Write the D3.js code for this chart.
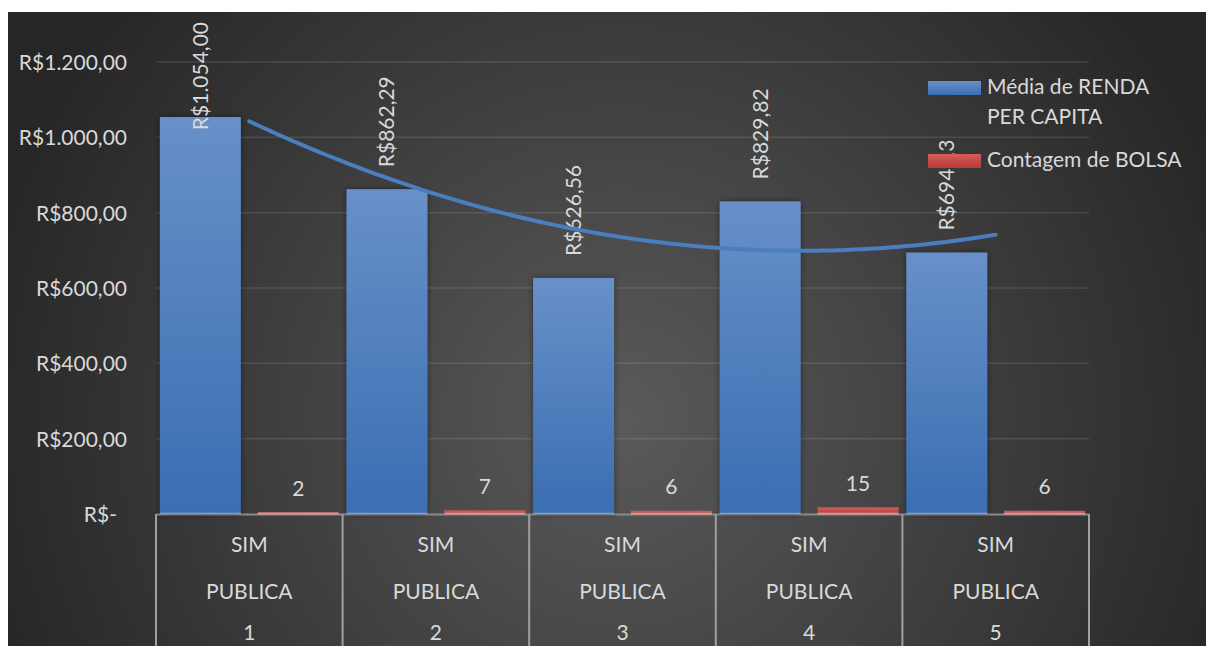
<!DOCTYPE html>
<html>
<head>
<meta charset="utf-8">
<script src="https://cdn.jsdelivr.net/npm/d3@7"></script>
<style>
  html, body { margin: 0; padding: 0; background: #ffffff; }
  svg { display: block; }
  text { font-family: Lato, "Open Sans", sans-serif; fill: #d9d9d9; }
</style>
</head>
<body>
<svg id="chart" width="1206" height="646"></svg>
<script>
// ---- data ----
const categories = ["1", "2", "3", "4", "5"];
const level1 = ["SIM", "SIM", "SIM", "SIM", "SIM"];
const level2 = ["PUBLICA", "PUBLICA", "PUBLICA", "PUBLICA", "PUBLICA"];
const rendaValues = [1054.00, 862.29, 626.56, 829.82, 694.13];
const bolsaValues = [2, 7, 6, 15, 6];
const yTicks = [0, 200, 400, 600, 800, 1000, 1200];
const seriesNames = ["Média de RENDA PER CAPITA", "Contagem de BOLSA"];

// ---- formatting ----
const brl = d3.formatLocale({decimal: ",", thousands: ".", grouping: [3], currency: ["R$", ""]});
const fmtMoney = v => v === 0 ? "R$-" : "R$" + brl.format(",.2f")(v);

const svg = d3.select("#chart");
const W = 1206, H = 646;
const defs = svg.append("defs");

// background gradient
const bg = defs.append("radialGradient").attr("id", "bgGrad")
  .attr("gradientUnits", "userSpaceOnUse").attr("cx", 620).attr("cy", 420).attr("r", 660);
bg.append("stop").attr("offset", "0%").attr("stop-color", "#5a5a5a");
bg.append("stop").attr("offset", "100%").attr("stop-color", "#262626");

const blueGrad = defs.append("linearGradient").attr("id", "blueGrad").attr("x1", 0).attr("y1", 0).attr("x2", 0).attr("y2", 1);
blueGrad.append("stop").attr("offset", "0%").attr("stop-color", "#6890c8");
blueGrad.append("stop").attr("offset", "100%").attr("stop-color", "#3a6eb2");
const redGrad = defs.append("linearGradient").attr("id", "redGrad").attr("x1", 0).attr("y1", 0).attr("x2", 0).attr("y2", 1);
redGrad.append("stop").attr("offset", "0%").attr("stop-color", "#d45f5b");
redGrad.append("stop").attr("offset", "100%").attr("stop-color", "#b93a38");

const shadow = defs.append("filter").attr("id", "shadow").attr("x", "-20%").attr("y", "-20%").attr("width", "140%").attr("height", "140%");
shadow.append("feDropShadow").attr("dx", 0).attr("dy", 0).attr("stdDeviation", 3)
  .attr("flood-color", "#000").attr("flood-opacity", 0.45);

svg.append("rect").attr("x", 8).attr("y", 12).attr("width", W - 8).attr("height", H - 12).attr("fill", "url(#bgGrad)");

// ---- scales ----
const x0 = 156, x1 = 1089;
const x = d3.scaleBand().domain(categories).range([x0, x1]).paddingInner(0).paddingOuter(0);
const xs = d3.scaleBand().domain(["renda", "bolsa"]).range([0, x.bandwidth()]).paddingInner(0.173).paddingOuter(0.04);
const y = d3.scaleLinear().domain([0, 1200]).range([514, 62]);

// gridlines
svg.append("g").selectAll("line").data(yTicks.filter(d => d > 0)).join("line")
  .attr("x1", x0).attr("x2", x1)
  .attr("y1", d => y(d)).attr("y2", d => y(d))
  .attr("stroke", "rgba(255,255,255,0.11)").attr("stroke-width", 1.5);

// y axis labels
const yAxis = d3.axisLeft(y).tickValues(yTicks).tickFormat(fmtMoney).tickSize(0).tickPadding(0);
const gy = svg.append("g").attr("transform", "translate(127,0)").call(yAxis);
gy.select(".domain").remove();
gy.selectAll("text").attr("font-size", 21).attr("font-family", "Lato, sans-serif").attr("fill", "#d9d9d9")
  .attr("dy", "0.35em")
  .attr("dx", d => d === 0 ? -10 : 0);

// category axis frame
svg.append("line").attr("x1", x0).attr("x2", x1).attr("y1", 514.5).attr("y2", 514.5)
  .attr("stroke", "#8c8c8c").attr("stroke-width", 2);
const seps = categories.map(c => x(c)).concat([x1]);
svg.append("g").selectAll("line").data(seps).join("line")
  .attr("x1", d => d).attr("x2", d => d).attr("y1", 514).attr("y2", H)
  .attr("stroke", "#a0a0a0").attr("stroke-width", 2);

// bars
const groups = svg.append("g").selectAll("g").data(categories).join("g")
  .attr("transform", d => `translate(${x(d)},0)`);
groups.append("rect")
  .attr("x", xs("renda")).attr("width", xs.bandwidth())
  .attr("y", (d, i) => y(rendaValues[i])).attr("height", (d, i) => y(0) - y(rendaValues[i]))
  .attr("fill", "url(#blueGrad)").attr("filter", "url(#shadow)");
groups.append("rect")
  .attr("x", xs("bolsa")).attr("width", xs.bandwidth())
  .attr("y", (d, i) => y(bolsaValues[i]) - 1).attr("height", (d, i) => y(0) - y(bolsaValues[i]) + 1)
  .attr("fill", "url(#redGrad)");
// light bottom edges
groups.append("line").attr("x1", xs("renda")).attr("x2", xs("renda") + xs.bandwidth())
  .attr("y1", 513.5).attr("y2", 513.5).attr("stroke", "#7da3d6").attr("stroke-width", 1.5);
groups.append("line").attr("x1", xs("bolsa")).attr("x2", xs("bolsa") + xs.bandwidth())
  .attr("y1", 513.5).attr("y2", 513.5).attr("stroke", "#e59a97").attr("stroke-width", 1.5);

// bolsa labels
groups.append("text")
  .attr("x", xs("bolsa") + xs.bandwidth() / 2)
  .attr("y", (d, i) => y(bolsaValues[i]) - 25)
  .attr("dy", "0.35em").attr("text-anchor", "middle").attr("font-size", 21)
  .text((d, i) => bolsaValues[i]);

// category labels
const catRows = [level1, level2, categories];
const rowY = [545, 592, 633];
catRows.forEach((row, r) => {
  svg.append("g").selectAll("text").data(categories).join("text")
    .attr("x", d => x(d) + x.bandwidth() / 2)
    .attr("y", rowY[r]).attr("dy", "0.35em")
    .attr("text-anchor", "middle").attr("font-size", 21)
    .text((d, i) => row[i]);
});

// polynomial (order 2) trendline of renda series
const idx = categories.map((d, i) => i + 1);
function polyFit2(xsArr, ysArr) {
  const n = xsArr.length;
  let s = [0, 0, 0, 0, 0], t = [0, 0, 0];
  for (let i = 0; i < n; i++) {
    for (let k = 0; k < 5; k++) s[k] += Math.pow(xsArr[i], k);
    for (let k = 0; k < 3; k++) t[k] += ysArr[i] * Math.pow(xsArr[i], k);
  }
  const A = [[s[0], s[1], s[2], t[0]], [s[1], s[2], s[3], t[1]], [s[2], s[3], s[4], t[2]]];
  for (let c = 0; c < 3; c++) {
    for (let r = c + 1; r < 3; r++) {
      const f = A[r][c] / A[c][c];
      for (let k = c; k < 4; k++) A[r][k] -= f * A[c][k];
    }
  }
  const b = [0, 0, 0];
  for (let r = 2; r >= 0; r--) {
    let v = A[r][3];
    for (let k = r + 1; k < 3; k++) v -= A[r][k] * b[k];
    b[r] = v / A[r][r];
  }
  return b;
}
const coef = polyFit2(idx, rendaValues);
const xi = d3.scaleLinear().domain([1, categories.length])
  .range([x(categories[0]) + x.bandwidth() / 2, x(categories[categories.length - 1]) + x.bandwidth() / 2]);
const trendPts = d3.range(0, 101).map(k => {
  const t = 1 + (categories.length - 1) * k / 100;
  return [xi(t), y(coef[0] + coef[1] * t + coef[2] * t * t)];
});
svg.append("path").attr("d", d3.line()(trendPts))
  .attr("fill", "none").attr("stroke", "#4a7ebf").attr("stroke-width", 4).attr("stroke-linecap", "round");

// renda labels (rotated)
groups.append("text")
  .attr("font-size", 21)
  .attr("text-anchor", "start")
  .attr("dy", "0.35em")
  .text((d, i) => fmtMoney(rendaValues[i]))
  .each(function(d, i) {
    const len = this.getComputedTextLength();
    let yy = y(rendaValues[i]) - 22;
    if (yy - len < 22) yy = 22 + len;
    const cx = xs("renda") + xs.bandwidth() / 2;
    d3.select(this).attr("transform", `translate(${cx},${yy}) rotate(-90)`);
  });

// legend
const legend = svg.append("g");
legend.append("rect").attr("x", 928).attr("y", 81).attr("width", 53).attr("height", 14).attr("fill", "url(#blueGrad)");
legend.append("text").attr("x", 987).attr("y", 94).attr("font-size", 21).text("Média de RENDA");
legend.append("text").attr("x", 987).attr("y", 124).attr("font-size", 21).text("PER CAPITA");
legend.append("rect").attr("x", 928).attr("y", 154).attr("width", 53).attr("height", 14).attr("fill", "url(#redGrad)");
legend.append("text").attr("x", 987).attr("y", 167).attr("font-size", 21).text(seriesNames[1]);
</script>
</body>
</html>
